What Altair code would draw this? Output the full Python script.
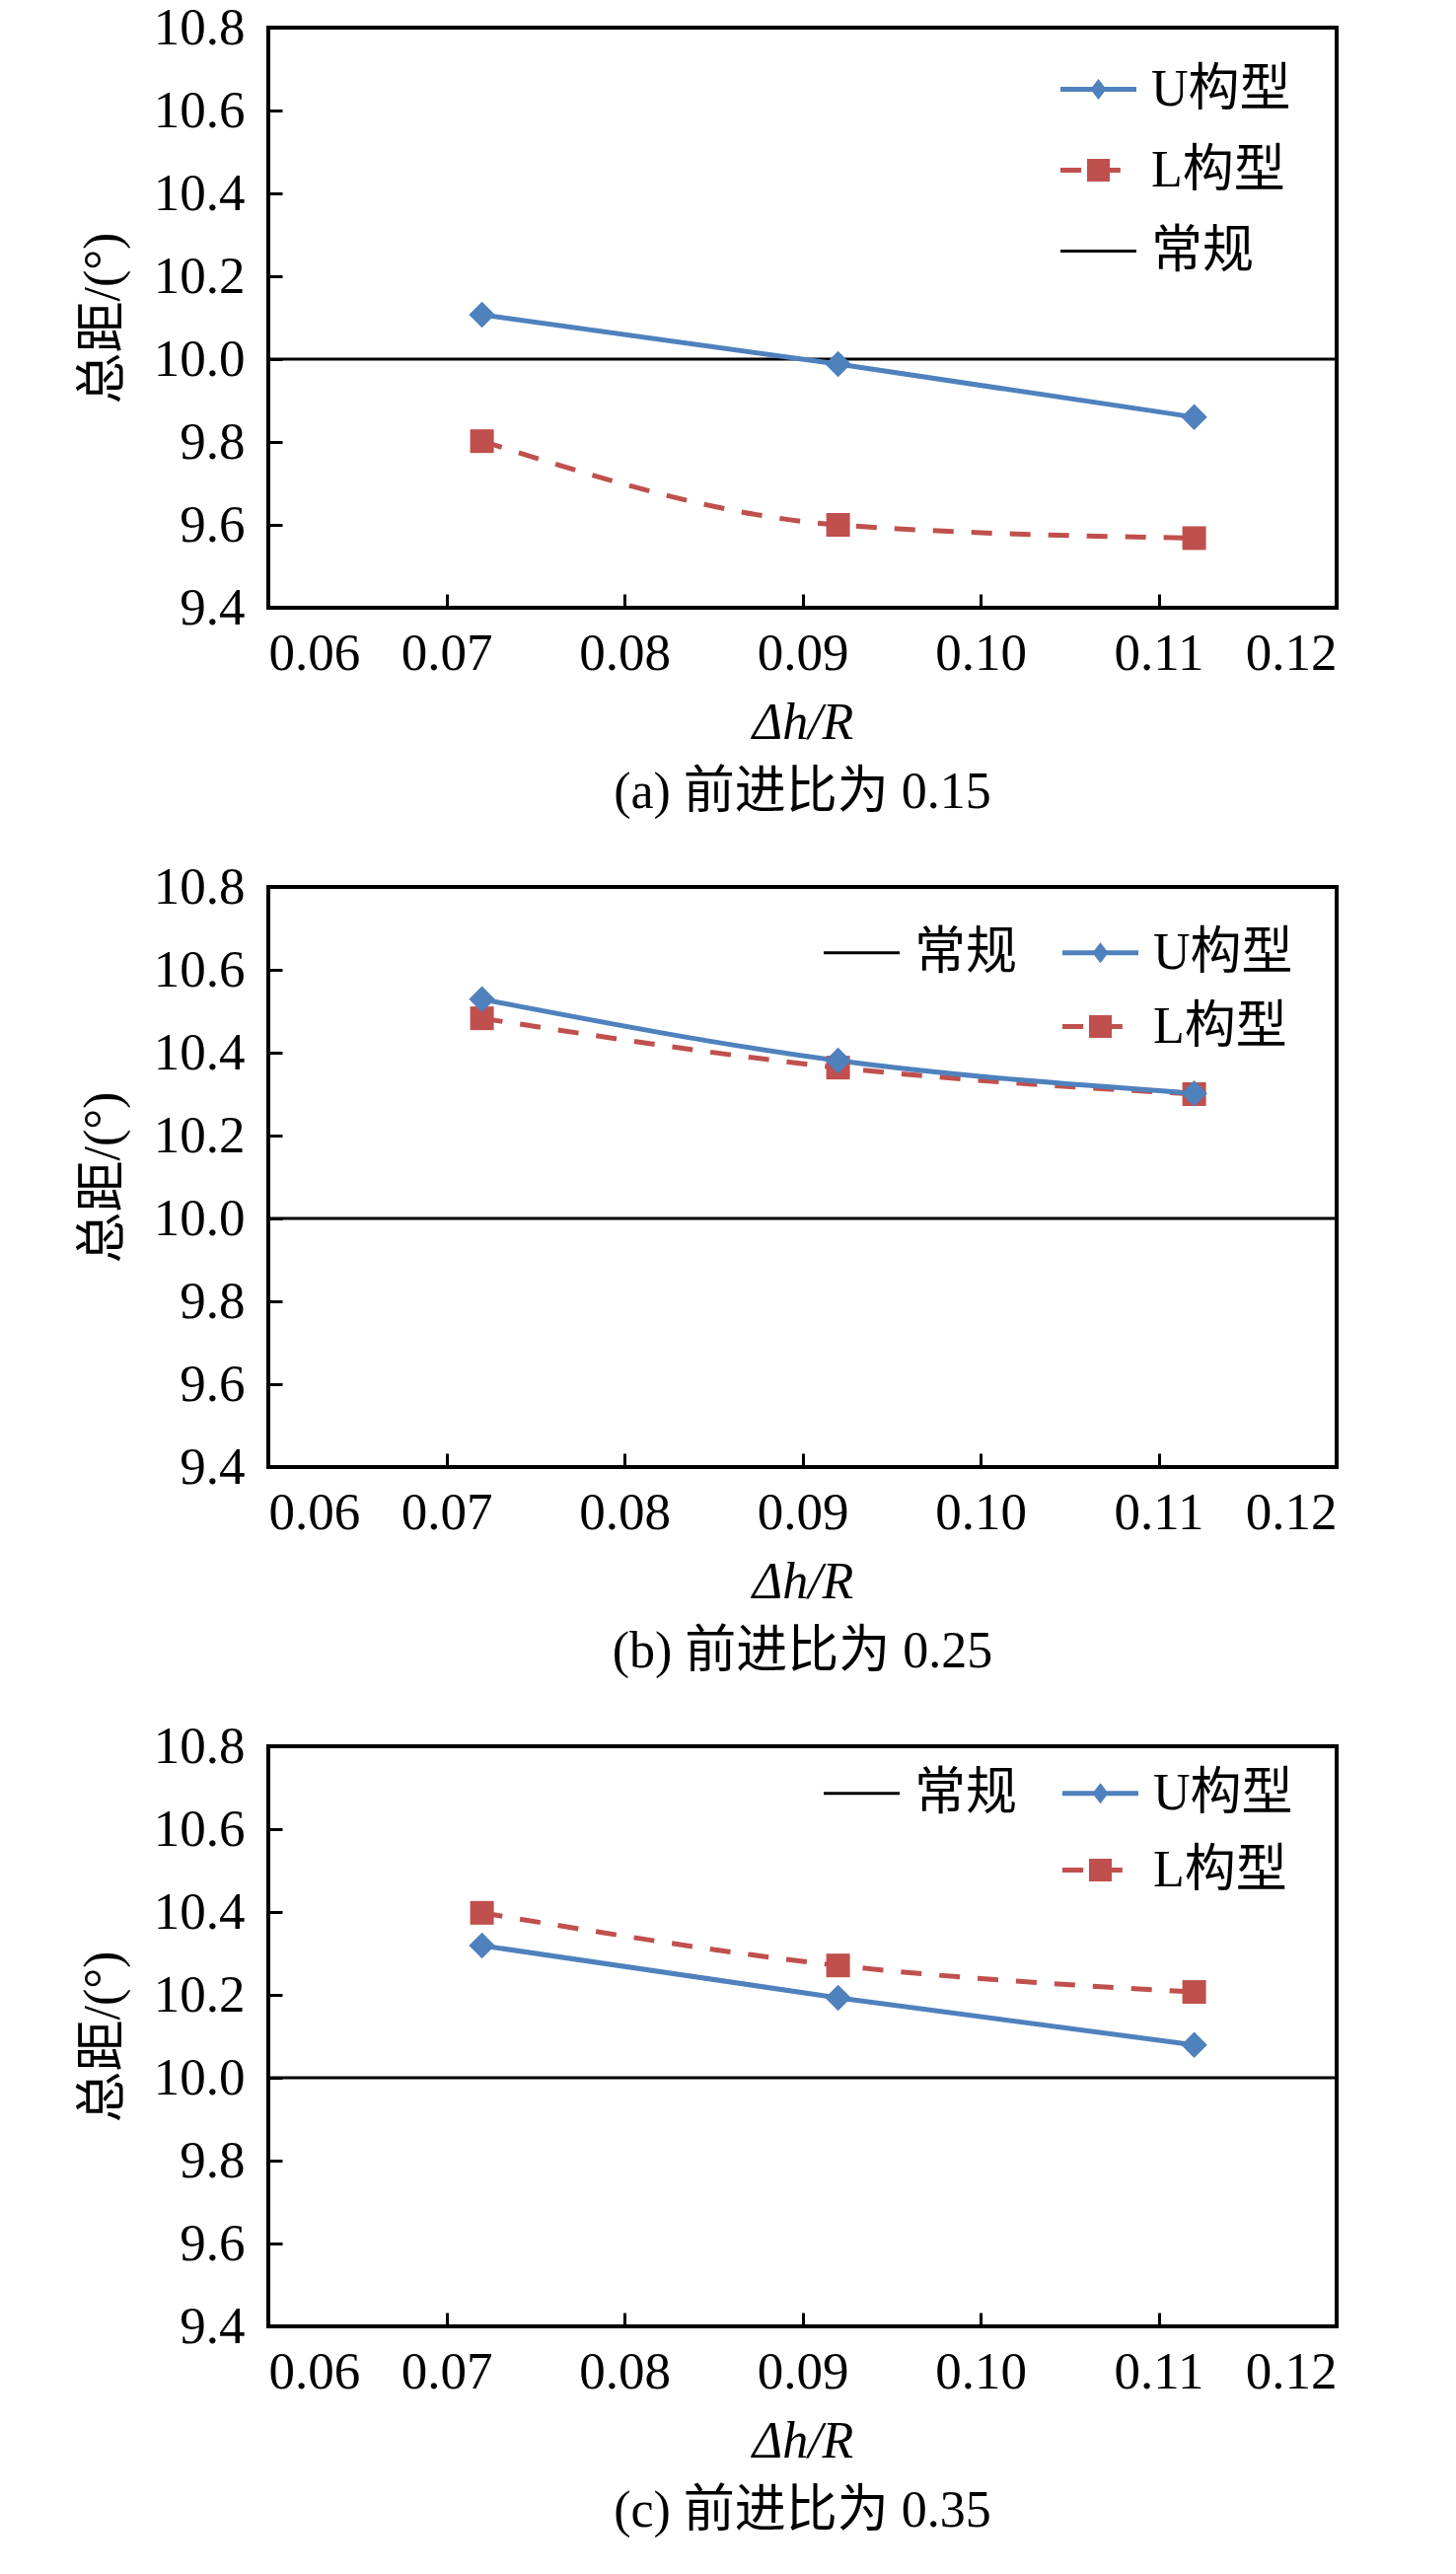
import altair as alt
import pandas as pd

# Δh/R positions of the three configurations
X_VALUES = [0.072, 0.092, 0.112]

# collective pitch (deg)
U_A = [10.107, 9.988, 9.860]
L_A = [9.802, 9.600, 9.568]
U_B = [10.529, 10.381, 10.302]
L_B = [10.483, 10.364, 10.300]
U_C = [10.319, 10.193, 10.079]
L_C = [10.398, 10.271, 10.207]
CONVENTIONAL = 10.0

CAPTIONS = ["(a) 前进比为 0.15", "(b) 前进比为 0.25", "(c) 前进比为 0.35"]
X_TICKS = [0.06, 0.07, 0.08, 0.09, 0.10, 0.11, 0.12]
Y_TICKS = [9.4, 9.6, 9.8, 10.0, 10.2, 10.4, 10.6, 10.8]

FONT = "'Times New Roman', 'Liberation Serif', 'Noto Sans CJK SC', serif"
BLUE = "#4F81BD"
RED = "#C0504D"
W, H = 1083, 588

# legend symbols: line + marker drawn as one filled path
LEGEND_PATHS = {
    "U构型": "M-1,-0.065H1V0.065H-1Z M0,-0.27L0.21,0L0,0.27L-0.21,0Z",
    "L构型": "M-1,-0.065H-0.45V0.065H-1Z M-0.3,-0.3H0.3V0.3H-0.3Z M0.3,-0.065H0.58V0.065H0.3Z",
    "常规": "M-1,-0.04H1V0.04H-1Z",
    " ": "M0,0L0,0",
}
LEGEND_COLORS = {"U构型": BLUE, "L构型": RED, "常规": "black", " ": "#ffffff"}


def panel(u_vals, l_vals, caption, entries, columns, lx, ly, row_pad):
    df = pd.DataFrame({
        "x": X_VALUES * 2,
        "y": u_vals + l_vals,
        "series": ["U构型"] * 3 + ["L构型"] * 3,
    })
    xs = alt.Scale(domain=[0.06, 0.12], nice=False, zero=False)
    ys = alt.Scale(domain=[9.4, 10.8], nice=False, zero=False)

    main_x = alt.Axis(values=X_TICKS, format=".2f", ticks=False, tickSize=0,
                      domain=False, grid=False, labelPadding=20,
                      title="Δh/R", titleFontStyle="italic", titlePadding=18)
    main_y = alt.Axis(values=Y_TICKS, format=".1f", ticks=False, tickSize=0,
                      domain=False, grid=False, labelPadding=24,
                      title="总距/(°)", titlePadding=24)
    # inner tick marks: axes on the far side pulled back onto the frame
    tick_x = alt.Axis(values=X_TICKS, orient="top", offset=-H, labels=False,
                      domain=False, grid=False, tickSize=14, tickWidth=3,
                      tickColor="black", title=None)
    tick_y = alt.Axis(values=Y_TICKS, orient="right", offset=-W, labels=False,
                      domain=False, grid=False, tickSize=14, tickWidth=3,
                      tickColor="black", title=None)

    base = alt.Chart(df)
    rule = (
        alt.Chart(pd.DataFrame({"y": [CONVENTIONAL]}))
        .mark_rule(color="black", strokeWidth=3)
        .encode(y=alt.Y("y:Q", scale=ys, axis=main_y))
    )
    u_line = (
        base.transform_filter("datum.series === 'U构型'")
        .mark_line(color=BLUE, strokeWidth=5, interpolate="monotone")
        .encode(x=alt.X("x:Q", scale=xs, axis=main_x),
                y=alt.Y("y:Q", scale=ys, axis=None))
    )
    u_pts = (
        base.transform_filter("datum.series === 'U构型'")
        .mark_point(shape="diamond", filled=True, size=700, color=BLUE, opacity=1)
        .encode(x=alt.X("x:Q", scale=xs, axis=None),
                y=alt.Y("y:Q", scale=ys, axis=None))
    )
    l_line = (
        base.transform_filter("datum.series === 'L构型'")
        .mark_line(color=RED, strokeWidth=5, strokeDash=[21, 18], interpolate="monotone")
        .encode(x=alt.X("x:Q", scale=xs, axis=tick_x),
                y=alt.Y("y:Q", scale=ys, axis=tick_y))
    )
    l_pts = (
        base.transform_filter("datum.series === 'L构型'")
        .mark_point(shape="square", filled=True, size=576, color=RED, opacity=1)
        .encode(x=alt.X("x:Q", scale=xs, axis=None),
                y=alt.Y("y:Q", scale=ys, axis=None))
    )

    leg = alt.Legend(
        title=None, orient="none", legendX=lx, legendY=ly, columns=columns,
        padding=0, rowPadding=row_pad, columnPadding=45, labelOffset=15,
        symbolSize=5929, symbolStrokeWidth=0, symbolOpacity=1,
        labelFont=FONT, labelFontSize=52, labelLimit=0,
    )
    legend_layer = (
        alt.Chart(pd.DataFrame({"entry": entries}))
        .transform_filter("false")
        .mark_point(filled=True, opacity=1)
        .encode(
            color=alt.Color("entry:N", legend=leg, scale=alt.Scale(
                domain=entries, range=[LEGEND_COLORS[e] for e in entries])),
            shape=alt.Shape("entry:N", legend=leg, scale=alt.Scale(
                domain=entries, range=[LEGEND_PATHS[e] for e in entries])),
        )
    )

    return (
        alt.layer(rule, l_line, u_line, l_pts, u_pts, legend_layer)
        .resolve_axis(x="independent", y="independent")
        .properties(
            width=W, height=H,
            title=alt.TitleParams(caption, orient="bottom", anchor="middle",
                                  font=FONT, fontSize=52, fontWeight="normal",
                                  offset=20),
        )
    )


# legend entries are laid out column by column
pa = panel(U_A, L_A, CAPTIONS[0], ["U构型", "L构型", "常规"], 1, 803, 24, 17)
pb = panel(U_B, L_B, CAPTIONS[1], ["常规", " ", "U构型", "L构型"], 2, 563, 28, 10)
pc = panel(U_C, L_C, CAPTIONS[2], ["常规", " ", "U构型", "L构型"], 2, 563, 9, 13)

chart = (
    alt.vconcat(pa, pb, pc, spacing=40)
    .resolve_scale(color="independent", shape="independent")
    .resolve_legend(color="independent", shape="independent")
    .properties(padding={"left": 68, "top": -8, "right": 5, "bottom": 5})
    .configure_view(stroke="black", strokeWidth=4)
    .configure_axis(labelFont=FONT, labelFontSize=53, labelColor="black",
                    titleFont=FONT, titleFontSize=52, titleFontWeight="normal",
                    titleColor="black")
)

chart.save("out.html", embed_options={"renderer": "svg", "actions": False})
